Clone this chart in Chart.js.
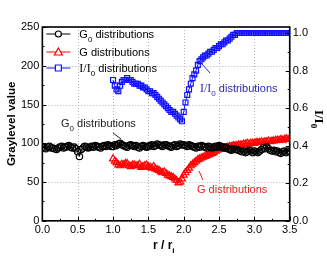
<!DOCTYPE html>
<html>
<head>
<meta charset="utf-8">
<script src="https://cdn.jsdelivr.net/npm/chart.js@4"></script>
<style>
  html, body { margin: 0; padding: 0; background: #fff; }
  #wrap { width: 327px; height: 256px; }
</style>
</head>
<body>
<div id="wrap"><canvas id="chart_Gray"></canvas></div>
<script>
// sampling of r/r_i
var rStep = 0.025;
var g0Start = 0.0;
var gStart = 1.0;

// G0 distributions (graylevel), r = 0 .. 3.5
var g0Values = [95, 94, 93, 95, 96, 94, 94, 93, 92, 94,
  95, 96, 94, 95, 96, 97, 95, 94, 95, 93,
  89, 83, 92, 94, 96, 95, 94, 95, 96, 95,
  97, 96, 95, 94, 96, 97, 96, 98, 97, 96,
  96, 98, 97, 99, 100, 98, 97, 96, 95, 97,
  98, 97, 96, 97, 95, 94, 96, 97, 96, 95,
  96, 97, 98, 96, 97, 99, 98, 97, 96, 98,
  98, 97, 96, 95, 97, 98, 96, 97, 99, 98,
  98, 97, 96, 98, 97, 96, 95, 94, 96, 95,
  97, 96, 95, 94, 96, 95, 94, 95, 96, 95,
  97, 96, 95, 94, 95, 93, 92, 91, 93, 92,
  92, 91, 90, 89, 90, 88, 89, 91, 90, 88,
  90, 89, 88, 90, 92, 94, 93, 95, 93, 91,
  90, 91, 89, 90, 88, 87, 89, 90, 88, 90,
  89];

// G distributions (graylevel), r = 1 .. 3.5
var gValues = [80, 77, 75, 72, 71, 73, 72, 74, 74, 71,
  70, 72, 72, 71, 71, 73, 69, 70, 71, 72,
  70, 69, 68, 70, 67, 66, 65, 63, 62, 63,
  61, 59, 58, 57, 56, 54, 52, 49, 50, 54,
  59, 62, 65, 68, 71, 73, 75, 77, 79, 80,
  81, 82, 83, 84, 85, 86, 87, 88, 90, 91,
  92, 92, 93, 94, 94, 95, 96, 96, 97, 97,
  97, 98, 98, 98, 99, 99, 100, 99, 100, 100,
  100, 101, 101, 101, 102, 101, 102, 102, 103, 102,
  103, 103, 104, 104, 104, 105, 104, 105, 106, 105,
  106];

// I/I0 distributions (right axis), r = 1 .. 3.5
var iValues = [0.75, 0.72, 0.70, 0.69, 0.72, 0.74, 0.75, 0.75, 0.76, 0.75,
  0.75, 0.74, 0.73, 0.73, 0.73, 0.72, 0.72, 0.71, 0.71, 0.70,
  0.69, 0.69, 0.68, 0.68, 0.67, 0.66, 0.65, 0.64, 0.63, 0.62,
  0.61, 0.60, 0.59, 0.58, 0.58, 0.57, 0.56, 0.55, 0.54, 0.53,
  0.58, 0.63, 0.67, 0.70, 0.73, 0.76, 0.78, 0.80, 0.83, 0.85,
  0.86, 0.87, 0.88, 0.88, 0.89, 0.90, 0.90, 0.91, 0.92, 0.92,
  0.93, 0.94, 0.94, 0.95, 0.96, 0.96, 0.97, 0.98, 0.99, 0.99,
  1.00, 1.00, 1.00, 1.00, 1.00, 1.00, 1.00, 1.00, 1.00, 1.00,
  1.00, 1.00, 1.00, 1.00, 1.00, 1.00, 1.00, 1.00, 1.00, 1.00,
  1.00, 1.00, 1.00, 1.00, 1.00, 1.00, 1.00, 1.00, 1.00, 1.00,
  1.00];

var xTicks = [0, 0.5, 1.0, 1.5, 2.0, 2.5, 3.0, 3.5];
var yTicks = [0, 50, 100, 150, 200, 250];
var y1Ticks = [0, 0.2, 0.4, 0.6, 0.8, 1.0];

function toPoints(start, arr) {
  var pts = [];
  for (var i = 0; i < arr.length; i++) {
    pts.push({ x: Math.round((start + i * rStep) * 1000) / 1000, y: arr[i] });
  }
  return pts;
}

var SANS = "'Liberation Sans', Arial, sans-serif";
var SERIF = "'Liberation Serif', 'Times New Roman', serif";

// text with a subscript part: parts = [[text, font, sub?], ...]
function drawParts(ctx, parts, x, y, color) {
  ctx.fillStyle = color;
  ctx.textBaseline = 'alphabetic';
  ctx.textAlign = 'left';
  for (var i = 0; i < parts.length; i++) {
    var p = parts[i];
    ctx.font = p[1];
    ctx.fillText(p[0], x, y + (p[2] ? 4 : 0));
    x += ctx.measureText(p[0]).width;
  }
  return x;
}

function arrow(ctx, x1, y1, x2, y2, color) {
  ctx.strokeStyle = color;
  ctx.lineWidth = 1;
  ctx.beginPath();
  ctx.moveTo(x1, y1);
  ctx.lineTo(x2, y2);
  ctx.stroke();
}

var gridPlugin = {
  id: 'dotgrid',
  beforeDatasetsDraw: function (chart) {
    var ctx = chart.ctx;
    var a = chart.chartArea;
    ctx.save();
    ctx.strokeStyle = '#b4b4b4';
    ctx.lineWidth = 1;
    ctx.setLineDash([1, 2]);
    ctx.beginPath();
    xTicks.forEach(function (v) {
      var px = Math.round(chart.scales.x.getPixelForValue(v)) + 0.5;
      ctx.moveTo(px, a.top); ctx.lineTo(px, a.bottom);
    });
    yTicks.forEach(function (v) {
      var py = Math.round(chart.scales.y.getPixelForValue(v)) + 0.5;
      ctx.moveTo(a.left, py); ctx.lineTo(a.right, py);
    });
    ctx.stroke();
    ctx.restore();
  }
};

var decorPlugin = {
  id: 'decor',
  afterDatasetsDraw: function (chart) {
    var ctx = chart.ctx;
    var a = chart.chartArea;
    var sx = chart.scales.x, sy = chart.scales.y, sy1 = chart.scales.y1;
    ctx.save();

    // frame
    ctx.strokeStyle = '#000';
    ctx.lineWidth = 1.6;
    ctx.strokeRect(a.left, a.top, a.right - a.left, a.bottom - a.top);

    // inward tick marks
    ctx.lineWidth = 1;
    ctx.beginPath();
    for (var v = 0; v <= 250; v += 25) {
      var py = Math.round(sy.getPixelForValue(v)) + 0.5;
      var len = (v % 50 == 0) ? 4 : 2;
      ctx.moveTo(a.left, py); ctx.lineTo(a.left + len, py);
    }
    for (var k = 0; k <= 10; k++) {
      var py1 = Math.round(sy1.getPixelForValue(k / 10)) + 0.5;
      var len1 = (k % 2 == 0) ? 4 : 2;
      ctx.moveTo(a.right, py1); ctx.lineTo(a.right - len1, py1);
    }
    for (var j = 0; j <= 14; j++) {
      var px = Math.round(sx.getPixelForValue(j * 0.25)) + 0.5;
      var len2 = (j % 2 == 0) ? 4 : 2;
      ctx.moveTo(px, a.bottom); ctx.lineTo(px, a.bottom - len2);
    }
    ctx.stroke();

    // legend (inside, top left)
    var lx = a.left + 4;
    var rows = [
      { y: a.top + 7, color: '#000', style: 'circle', parts: [['G', '11px ' + SANS], ['0', '8px ' + SANS, true], [' distributions', '11px ' + SANS]] },
      { y: a.top + 25, color: '#ff0000', style: 'triangle', parts: [['G distributions', '11px ' + SANS]] },
      { y: a.top + 41, color: '#1010ff', style: 'rect', parts: [['I/I', '12px ' + SERIF], ['0', '8px ' + SANS, true], [' distributions', '11px ' + SANS]] }
    ];
    rows.forEach(function (r) {
      ctx.strokeStyle = r.color;
      ctx.lineWidth = 1;
      ctx.beginPath();
      ctx.moveTo(lx, r.y); ctx.lineTo(lx + 24, r.y);
      ctx.stroke();
      ctx.fillStyle = '#fff';
      ctx.lineWidth = 1.2;
      ctx.beginPath();
      if (r.style == 'circle') {
        ctx.arc(lx + 12, r.y, 3, 0, Math.PI * 2);
      } else if (r.style == 'triangle') {
        ctx.moveTo(lx + 12, r.y - 4); ctx.lineTo(lx + 16, r.y + 3); ctx.lineTo(lx + 8, r.y + 3); ctx.closePath();
      } else {
        ctx.rect(lx + 9, r.y - 3, 6, 6);
      }
      ctx.fill();
      ctx.stroke();
      drawParts(ctx, r.parts, lx + 33, r.y + 4, '#000');
    });

    // annotations
    drawParts(ctx, [['G', '11px ' + SANS], ['0', '8px ' + SANS, true], [' distributions', '11px ' + SANS]], 61, 127, '#222');
    arrow(ctx, 113, 133, 121, 139, '#222');
    drawParts(ctx, [['I/I', '12px ' + SERIF], ['0', '8px ' + SANS, true], [' distributions', '11px ' + SANS]], 200, 92, '#2a2ab0');
    arrow(ctx, 210, 73, 202, 64, '#2a2ab0');
    drawParts(ctx, [['G distributions', '11px ' + SANS]], 197, 193, '#e8201f');
    arrow(ctx, 203, 180, 199, 171, '#e8201f');

    // axis titles
    ctx.save();
    ctx.translate(12, (a.top + a.bottom) / 2);
    ctx.rotate(-Math.PI / 2);
    ctx.font = 'bold 11.5px ' + SANS;
    ctx.fillStyle = '#000';
    ctx.textAlign = 'center';
    ctx.textBaseline = 'middle';
    ctx.fillText('Graylevel value', 0, 0);
    ctx.restore();

    var bx = (a.left + a.right) / 2 - 13;
    drawParts(ctx, [['r / r', 'bold 12px ' + SANS], ['i', 'bold 8px ' + SANS, true]], bx, 249, '#000');

    ctx.save();
    ctx.translate(315, (a.top + a.bottom) / 2 - 14);
    ctx.rotate(Math.PI / 2);
    drawParts(ctx, [['I/I', 'bold 13px ' + SERIF], ['0', 'bold 9px ' + SERIF, true]], 0, 0, '#000');
    ctx.restore();

    ctx.restore();
  }
};

new Chart(document.getElementById("chart_Gray"), {
  type: 'line',
  data: {
    datasets: [{
      label: 'G0 distributions',
      data: toPoints(g0Start, g0Values),
      yAxisID: 'y',
      borderColor: '#000',
      borderWidth: 1,
      pointStyle: 'circle',
      pointRadius: 3.2,
      pointBorderWidth: 1.2,
      pointBorderColor: '#000',
      pointBackgroundColor: 'rgba(255,255,255,0)'
    }, {
      label: 'G distributions',
      data: toPoints(gStart, gValues),
      yAxisID: 'y',
      borderColor: '#ff0000',
      borderWidth: 1,
      pointStyle: 'triangle',
      pointRadius: 4,
      pointBorderWidth: 1.2,
      pointBorderColor: '#ff0000',
      pointBackgroundColor: 'rgba(255,255,255,0)'
    }, {
      label: 'I/I0 distributions',
      data: toPoints(gStart, iValues),
      yAxisID: 'y1',
      borderColor: '#1010ff',
      borderWidth: 1,
      pointStyle: 'rect',
      pointRadius: 3.5,
      pointBorderWidth: 1.2,
      pointBorderColor: '#1010ff',
      pointBackgroundColor: 'rgba(255,255,255,0)'
    }]
  },
  options: {
    responsive: true,
    maintainAspectRatio: false,
    animation: false,
    layout: { padding: { left: 18, right: 16, top: 27, bottom: 16 } },
    plugins: {
      legend: { display: false },
      tooltip: { enabled: false }
    },
    scales: {
      x: {
        type: 'linear',
        min: 0,
        max: 3.5,
        afterBuildTicks: function (axis) { axis.ticks = xTicks.map(function (v) { return { value: v }; }); },
        ticks: {
          color: '#000',
          font: { family: SANS, size: 11 },
          padding: 3,
          maxRotation: 0,
          callback: function (v) { return v.toFixed(1); }
        },
        grid: { display: false, drawTicks: false },
        border: { display: false }
      },
      y: {
        position: 'left',
        min: 0,
        max: 250,
        afterBuildTicks: function (axis) { axis.ticks = yTicks.map(function (v) { return { value: v }; }); },
        ticks: {
          color: '#000',
          font: { family: SANS, size: 11 },
          padding: 3
        },
        grid: { display: false, drawTicks: false },
        border: { display: false }
      },
      y1: {
        position: 'right',
        min: 0,
        max: 1.032,
        afterBuildTicks: function (axis) { axis.ticks = y1Ticks.map(function (v) { return { value: v }; }); },
        ticks: {
          color: '#000',
          font: { family: SANS, size: 11 },
          padding: 3,
          callback: function (v) { return v.toFixed(1); }
        },
        grid: { display: false, drawTicks: false },
        border: { display: false }
      }
    }
  },
  plugins: [gridPlugin, decorPlugin]
});
</script>
</body>
</html>
